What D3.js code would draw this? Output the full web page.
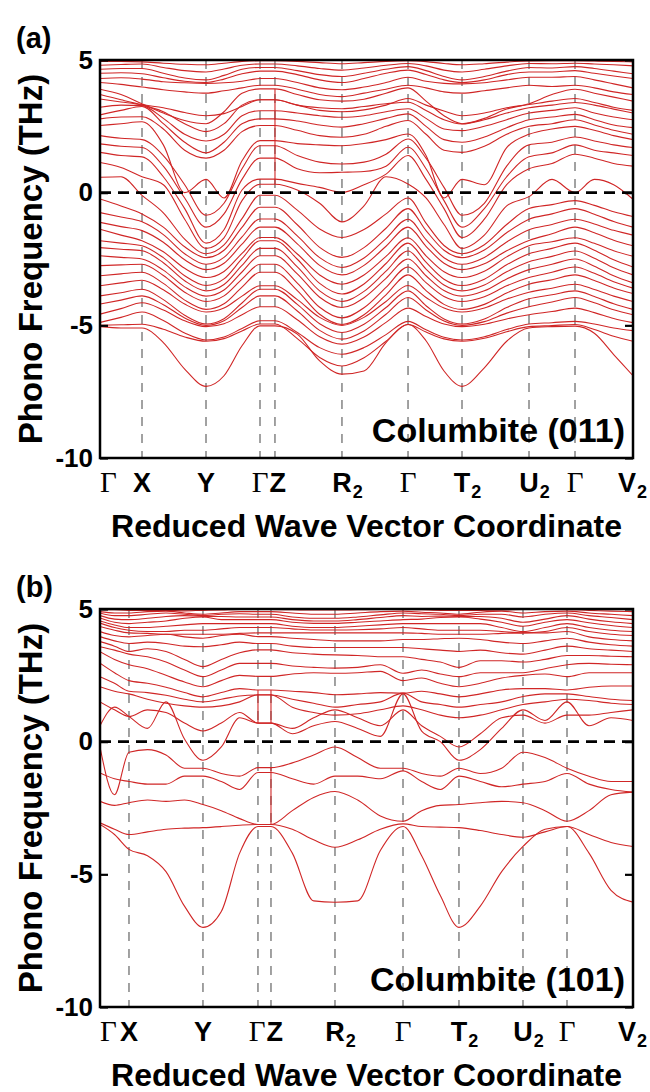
<!DOCTYPE html>
<html>
<head>
<meta charset="utf-8">
<script src="https://cdn.jsdelivr.net/npm/d3@7"></script>
<style>
  body { margin: 0; background: #fff; }
  text { font-family: "Liberation Sans", Arial, sans-serif; font-weight: bold; fill: #000; }
</style>
</head>
<body>
<svg id="chart" width="650" height="1092"></svg>
<script>
// high-symmetry labels along the path
const pointLabels = ['Γ', 'X', 'Y', 'Γ', 'Z', 'R2', 'Γ', 'T2', 'U2', 'Γ', 'V2'];
const yTicks = [5, 0, -5, -10];

// path coordinate (0..1) of each high-symmetry point, and samples per segment
const kTicksA = [0, 0.0788, 0.1989, 0.3002, 0.3283, 0.454, 0.5779, 0.6792, 0.8049, 0.8912, 1];
const stepsA = [2, 3, 3, 1, 3, 3, 3, 3, 2, 3];
const kTicksB = [0, 0.0544, 0.1932, 0.2964, 0.3208, 0.4409, 0.5685, 0.6735, 0.7936, 0.8762, 1];
const stepsB = [2, 4, 3, 1, 3, 3, 3, 3, 2, 3];

// vertical jumps drawn where the path is discontinuous: [point index, from THz, to THz]
const jumpsA = [[4, 3.91, 0.32]];
const jumpsB = [[3, 1.95, 0.7], [4, 1.95, 0.7], [4, -0.98, -3.12]];

// Columbite (011) phonon bands, THz
const bandsA = [
  [4.95,4.95,4.93,4.88,4.84,4.82,4.88,4.95,4.97,4.97,4.95,4.9,4.86,4.9,4.95,4.97,4.94,4.87,4.82,4.86,4.92,4.96,4.97,4.97,4.96,4.95,4.93],
  [4.8,4.83,4.85,4.72,4.6,4.55,4.66,4.8,4.85,4.85,4.78,4.68,4.62,4.7,4.8,4.87,4.78,4.62,4.55,4.65,4.78,4.87,4.86,4.88,4.85,4.82,4.78],
  [4.65,4.68,4.68,4.5,4.32,4.25,4.42,4.65,4.72,4.72,4.6,4.45,4.38,4.5,4.65,4.75,4.6,4.38,4.25,4.38,4.58,4.72,4.7,4.75,4.68,4.58,4.48],
  [4.5,4.52,4.48,4.33,4.2,4.15,4.28,4.48,4.58,4.58,4.45,4.25,4.15,4.3,4.5,4.62,4.45,4.25,4.15,4.25,4.45,4.55,4.55,4.6,4.5,4.4,4.3],
  [4.3,4.33,4.28,4.18,4.14,4.12,4.14,4.2,4.3,4.3,4.15,3.95,3.88,3.98,4.15,4.35,4.2,4.12,4.1,4.14,4.25,4.35,4.35,4.38,4.25,4.1,3.95],
  [4.15,4.08,3.98,3.88,3.8,3.75,3.84,3.95,4.05,4.05,3.9,3.7,3.62,3.75,3.9,4.05,3.95,3.8,3.75,3.84,3.95,4.05,4.0,4.05,3.95,3.8,3.7],
  [3.9,3.7,3.35,3.0,2.72,2.6,3.05,3.75,3.91,3.91,3.7,3.5,3.45,3.52,3.75,3.95,3.45,2.9,2.6,2.8,3.15,3.35,3.7,3.9,3.75,3.6,3.45],
  [3.7,3.5,3.32,3.2,3.02,2.9,2.98,3.25,3.5,3.5,3.3,3.1,3.05,3.12,3.3,3.55,3.3,3.08,2.9,3.0,3.2,3.32,3.45,3.55,3.4,3.22,3.1],
  [3.53,3.42,3.3,3.05,2.6,2.3,2.6,3.3,3.5,3.5,3.3,3.2,3.16,3.25,3.35,3.41,3.1,2.75,2.59,2.75,3.0,3.2,3.3,3.4,3.3,3.15,3.0],
  [3.22,3.3,3.28,2.8,2.2,1.95,2.2,2.9,3.09,3.09,3.0,2.9,2.84,2.9,3.05,3.16,2.8,2.4,2.34,2.5,2.75,3.0,3.1,3.2,3.0,2.85,2.75],
  [2.93,3.1,3.25,2.6,1.9,1.5,1.9,2.6,2.78,2.78,2.7,2.55,2.47,2.6,2.8,2.97,2.5,2.0,1.9,2.1,2.45,2.75,2.85,2.95,2.75,2.55,2.45],
  [2.78,2.85,2.86,2.4,1.6,1.3,1.6,2.3,2.53,2.53,2.35,2.15,2.09,2.2,2.5,2.72,2.2,1.6,1.52,1.75,2.2,2.5,2.6,2.75,2.55,2.35,2.2],
  [2.53,2.6,2.67,1.8,0.0,0.5,-0.2,1.2,1.96,1.96,1.85,1.8,1.77,1.85,2.0,2.21,1.4,-0.2,0.5,0.3,1.7,2.2,2.4,2.5,2.35,2.15,2.0],
  [2.15,2.05,2.0,1.4,0.3,-0.85,-0.4,0.9,1.77,1.77,1.4,1.15,1.08,1.15,1.45,2.02,1.3,0.2,-0.85,-0.4,1.0,1.8,1.9,2.1,1.95,1.8,1.7],
  [1.84,1.75,1.7,1.0,-0.2,-1.3,-0.8,0.5,1.3,1.3,0.9,0.75,0.77,0.8,1.0,1.71,0.9,-0.3,-1.3,-0.6,0.6,1.35,1.5,1.8,1.6,1.5,1.4],
  [1.52,1.4,1.35,0.6,-0.6,-1.9,-1.4,0.1,0.51,0.51,0.35,0.2,0.01,0.3,0.7,1.4,0.5,-0.6,-1.69,-1.0,0.3,0.9,1.1,1.45,1.3,1.1,1.0],
  [1.14,0.95,0.6,0.3,-1.0,-2.1,-1.7,-0.3,0.32,0.32,0.1,-0.4,-1.1,-0.5,0.6,0.33,-0.2,-1.2,-2.1,-1.6,-0.5,-0.15,0.5,0.0,0.5,0.3,-0.25],
  [0.58,0.6,-0.1,-0.76,-1.75,-2.3,-1.97,-0.98,-0.1,-0.1,-0.66,-1.37,-1.69,-1.39,-0.8,-0.2,-1.15,-1.99,-2.3,-1.96,-1.2,-0.6,-0.45,-0.3,-0.48,-0.72,-0.9],
  [-0.24,-0.5,-0.8,-1.3,-2.04,-2.45,-2.17,-1.31,-0.55,-0.55,-1.21,-2.06,-2.44,-2.07,-1.34,-0.6,-1.43,-2.17,-2.45,-2.16,-1.51,-1.0,-0.8,-0.6,-0.81,-1.09,-1.3],
  [-0.75,-0.92,-1.1,-1.58,-2.3,-2.7,-2.44,-1.67,-0.99,-0.99,-1.63,-2.45,-2.82,-2.46,-1.73,-1.0,-1.77,-2.45,-2.7,-2.44,-1.86,-1.4,-1.2,-1.0,-1.18,-1.42,-1.6],
  [-1.12,-1.28,-1.43,-1.87,-2.53,-2.9,-2.66,-1.94,-1.3,-1.3,-1.93,-2.74,-3.1,-2.74,-2.02,-1.3,-2.02,-2.66,-2.9,-2.68,-2.19,-1.8,-1.55,-1.3,-1.51,-1.79,-2.0],
  [-1.38,-1.6,-1.81,-2.23,-2.85,-3.2,-2.97,-2.29,-1.69,-1.69,-2.31,-3.1,-3.45,-3.1,-2.4,-1.7,-2.38,-2.98,-3.2,-2.96,-2.42,-2.0,-1.85,-1.7,-1.91,-2.19,-2.4],
  [-1.81,-1.9,-2.0,-2.45,-3.13,-3.5,-3.25,-2.49,-1.81,-1.81,-2.51,-3.42,-3.82,-3.44,-2.67,-1.9,-2.62,-3.26,-3.5,-3.26,-2.72,-2.3,-2.1,-1.9,-2.17,-2.53,-2.8],
  [-2.07,-2.13,-2.19,-2.64,-3.32,-3.7,-3.46,-2.74,-2.1,-2.1,-2.8,-3.7,-4.1,-3.72,-2.96,-2.2,-2.88,-3.48,-3.7,-3.48,-2.98,-2.6,-2.4,-2.2,-2.47,-2.83,-3.1],
  [-2.38,-2.44,-2.5,-2.92,-3.55,-3.9,-3.67,-2.99,-2.38,-2.38,-3.06,-3.94,-4.33,-3.96,-3.23,-2.5,-3.13,-3.69,-3.9,-3.7,-3.25,-2.9,-2.7,-2.5,-2.77,-3.13,-3.4],
  [-2.75,-2.72,-2.7,-3.12,-3.75,-4.1,-3.89,-3.26,-2.7,-2.7,-3.41,-4.32,-4.72,-4.34,-3.57,-2.8,-3.39,-3.91,-4.1,-3.92,-3.51,-3.2,-3.0,-2.8,-3.04,-3.36,-3.6],
  [-3.13,-3.06,-3.0,-3.42,-4.05,-4.4,-4.19,-3.56,-3.0,-3.0,-3.69,-4.58,-4.97,-4.6,-3.85,-3.1,-3.69,-4.21,-4.4,-4.21,-3.78,-3.45,-3.28,-3.1,-3.31,-3.59,-3.8],
  [-3.51,-3.4,-3.3,-3.66,-4.2,-4.5,-4.35,-3.9,-3.51,-3.51,-4.03,-4.7,-5.0,-4.7,-4.1,-3.5,-3.95,-4.35,-4.5,-4.35,-4.01,-3.75,-3.6,-3.45,-3.65,-3.9,-4.1],
  [-3.89,-3.77,-3.64,-4.03,-4.62,-4.95,-4.75,-4.16,-3.64,-3.64,-4.21,-4.94,-5.27,-4.96,-4.33,-3.7,-4.26,-4.76,-4.95,-4.76,-4.33,-4.0,-3.85,-3.7,-3.91,-4.19,-4.4],
  [-4.2,-4.05,-3.89,-4.22,-4.72,-5.0,-4.83,-4.33,-3.89,-3.89,-4.46,-5.19,-5.52,-5.21,-4.58,-3.95,-4.42,-4.84,-5.0,-4.86,-4.54,-4.3,-4.12,-3.95,-4.15,-4.41,-4.6],
  [-4.58,-4.37,-4.15,-4.42,-4.83,-5.05,-4.94,-4.6,-4.3,-4.3,-4.79,-5.43,-5.71,-5.44,-4.89,-4.35,-4.67,-4.95,-5.05,-4.96,-4.76,-4.6,-4.48,-4.35,-4.52,-4.74,-4.9],
  [-4.89,-4.7,-4.5,-4.82,-5.29,-5.55,-5.44,-5.12,-4.83,-4.83,-5.27,-5.84,-6.09,-5.84,-5.35,-4.85,-5.17,-5.45,-5.55,-5.43,-5.16,-4.95,-4.9,-4.85,-4.95,-5.1,-5.2],
  [-5.0,-4.98,-4.96,-5.15,-5.44,-5.6,-5.5,-5.21,-4.95,-4.95,-5.5,-6.21,-6.53,-6.22,-5.6,-4.97,-5.25,-5.51,-5.6,-5.49,-5.24,-5.05,-5.01,-4.97,-5.16,-5.41,-5.6],
  [-5.05,-5.1,-5.1,-5.65,-6.65,-7.3,-6.9,-5.77,-5.02,-5.02,-5.33,-6.34,-6.84,-6.72,-5.65,-4.97,-5.58,-6.72,-7.3,-6.6,-5.6,-5.1,-5.05,-5.03,-5.3,-6.1,-6.9]
];

// Columbite (101) phonon bands, THz
const bandsB = [
  [4.98,4.97,4.95,4.95,4.95,4.93,4.95,4.96,4.98,4.98,4.98,4.97,4.96,4.96,4.97,4.98,4.98,4.97,4.95,4.95,4.95,4.96,4.98,4.99,4.98,4.95,4.92,4.9],
  [4.9,4.85,4.85,4.9,4.92,4.85,4.8,4.85,4.9,4.9,4.9,4.85,4.8,4.8,4.85,4.9,4.92,4.88,4.85,4.8,4.88,4.92,4.85,4.9,4.92,4.85,4.8,4.75],
  [4.85,4.75,4.75,4.8,4.85,4.8,4.75,4.8,4.82,4.8,4.8,4.7,4.65,4.65,4.7,4.78,4.85,4.82,4.8,4.75,4.8,4.8,4.7,4.8,4.85,4.75,4.68,4.6],
  [4.75,4.62,4.6,4.65,4.72,4.75,4.72,4.72,4.7,4.7,4.7,4.6,4.55,4.55,4.6,4.68,4.75,4.72,4.73,4.72,4.72,4.65,4.5,4.62,4.75,4.62,4.52,4.45],
  [4.66,4.5,4.45,4.5,4.55,4.65,4.7,4.6,4.6,4.6,4.6,4.5,4.46,4.46,4.5,4.55,4.6,4.62,4.68,4.7,4.62,4.5,4.35,4.5,4.6,4.48,4.38,4.3],
  [4.55,4.4,4.3,4.3,4.35,4.4,4.45,4.45,4.45,4.45,4.45,4.35,4.3,4.3,4.35,4.4,4.45,4.45,4.45,4.45,4.45,4.3,4.15,4.3,4.45,4.3,4.2,4.15],
  [4.47,4.3,4.2,4.15,4.15,4.2,4.2,4.25,4.3,4.3,4.3,4.25,4.21,4.21,4.22,4.25,4.3,4.25,4.2,4.2,4.2,4.15,4.1,4.15,4.3,4.15,4.05,4.0],
  [4.34,4.2,4.1,4.08,4.05,4.05,4.05,4.05,4.08,4.1,4.1,4.1,4.1,4.1,4.1,4.1,4.1,4.08,4.05,4.05,4.05,4.08,4.1,4.1,4.15,3.95,3.85,3.8],
  [4.15,4.0,3.95,4.0,4.05,3.95,3.9,4.0,4.05,3.96,3.96,3.9,3.85,3.8,3.8,3.8,3.85,3.85,3.88,3.9,3.85,3.75,3.7,3.8,3.9,3.75,3.65,3.6],
  [3.96,3.8,3.7,3.75,3.7,3.6,3.58,3.65,3.75,3.7,3.7,3.6,3.55,3.55,3.55,3.55,3.55,3.5,3.45,3.4,3.45,3.35,3.3,3.45,3.6,3.5,3.45,3.4],
  [3.77,3.6,3.4,3.5,3.4,3.1,2.83,3.1,3.35,3.46,3.46,3.35,3.3,3.27,3.25,3.2,3.2,3.1,3.0,2.8,3.05,3.05,3.0,3.1,3.25,3.25,3.22,3.2],
  [3.58,3.45,3.3,3.2,3.0,2.7,2.45,2.7,2.95,2.95,2.95,2.85,2.8,2.77,2.8,2.9,2.58,2.7,2.55,2.45,2.6,2.6,2.6,2.75,2.9,2.95,2.92,2.9],
  [3.39,3.1,2.9,2.75,2.5,2.25,2.07,2.3,2.5,2.46,2.46,2.55,2.6,2.58,2.6,2.65,2.3,2.4,2.2,2.07,2.2,2.4,2.5,2.55,2.45,2.6,2.6,2.6],
  [2.96,2.6,2.3,2.2,2.05,1.85,1.69,1.85,2.0,1.95,1.95,1.9,1.85,1.77,1.8,1.85,1.83,1.9,1.8,1.69,1.8,1.95,2.0,2.0,1.95,2.05,2.1,2.1],
  [2.45,2.2,1.9,1.85,1.75,1.6,1.5,1.6,1.72,1.76,1.76,1.6,1.45,1.3,1.4,1.5,1.83,1.5,1.4,1.3,1.4,1.5,1.7,1.8,1.8,1.7,1.6,1.55],
  [2.07,1.9,1.8,1.6,1.45,1.35,1.3,1.35,1.5,1.77,1.77,1.3,1.1,1.0,1.05,1.2,1.35,1.2,1.0,0.9,1.0,1.2,1.4,1.5,1.6,1.55,1.45,1.4],
  [1.5,1.2,0.95,1.2,1.1,0.7,0.4,0.7,1.1,0.7,0.7,0.5,0.9,1.2,0.9,0.6,1.2,0.6,0.2,-0.2,0.3,0.9,1.0,0.7,1.0,1.0,1.1,1.2],
  [0.6,1.3,0.95,0.5,1.5,0.1,-0.7,-0.2,0.9,0.7,0.7,0.3,0.6,0.76,0.5,0.2,1.8,0.4,0.0,-0.7,-0.3,0.5,1.2,0.8,1.5,0.6,0.9,0.8],
  [-0.2,-2.0,-0.4,-0.3,-0.5,-1.0,-1.0,-1.2,-1.3,-0.98,-0.98,-0.8,-0.5,-0.2,-0.6,-1.0,-1.0,-1.2,-1.3,-1.0,-1.2,-1.0,-0.4,-0.6,-1.0,-1.3,-1.5,-1.5],
  [-1.18,-1.4,-1.5,-1.6,-1.6,-1.3,-1.3,-1.5,-1.8,-1.16,-1.16,-1.4,-1.6,-1.3,-1.3,-1.4,-1.1,-1.5,-1.8,-1.3,-1.5,-1.7,-1.6,-1.5,-1.2,-1.6,-1.8,-1.9],
  [-2.25,-2.4,-2.3,-2.2,-2.25,-2.2,-2.37,-2.6,-2.9,-3.12,-3.12,-2.6,-2.1,-1.88,-2.2,-2.8,-3.0,-2.6,-2.4,-2.37,-2.3,-2.25,-2.3,-2.6,-3.0,-2.6,-2.0,-1.9],
  [-3.06,-3.3,-3.5,-3.4,-3.3,-3.26,-3.24,-3.2,-3.15,-3.12,-3.12,-3.3,-3.7,-3.98,-3.7,-3.3,-3.1,-3.2,-3.22,-3.24,-3.35,-3.5,-3.6,-3.4,-3.2,-3.5,-3.8,-3.95],
  [-3.12,-3.5,-4.06,-4.3,-4.9,-6.2,-7.0,-6.4,-4.2,-3.2,-3.2,-4.2,-6.0,-6.05,-6.0,-4.1,-3.2,-4.3,-5.8,-7.0,-6.2,-4.9,-3.95,-3.3,-3.2,-4.2,-5.6,-6.05]
];

const svg = d3.select('#chart');
const plotX = [100, 633];
const bandColor = '#d02626';

const panels = [
  { top: 60, bottom: 458, ticks: kTicksA, steps: stepsA, bands: bandsA, jumps: jumpsA, tag: '(a)', name: 'Columbite (011)' },
  { top: 609, bottom: 1007, ticks: kTicksB, steps: stepsB, bands: bandsB, jumps: jumpsB, tag: '(b)', name: 'Columbite (101)' }
];

panels.forEach((p, i) => drawPanel(p, i));

function drawPanel(p, idx) {
  const x = d3.scaleLinear().domain([0, 1]).range(plotX);
  const y = d3.scaleLinear().domain([-10, 5]).range([p.bottom, p.top]);

  // sample positions along the path (evenly split inside each segment)
  const grid = [p.ticks[0]];
  p.steps.forEach((n, s) => {
    const k0 = p.ticks[s], k1 = p.ticks[s + 1];
    for (let j = 1; j <= n; j++) grid.push(k0 + (k1 - k0) * j / n);
  });
  p.bands.forEach((b, i) => {
    if (b.length !== grid.length) console.error('band length mismatch', idx, i, b.length, grid.length);
  });

  const g = svg.append('g');
  const clipId = 'clip' + idx;
  g.append('clipPath').attr('id', clipId).append('rect')
    .attr('x', plotX[0]).attr('y', p.top)
    .attr('width', plotX[1] - plotX[0]).attr('height', p.bottom - p.top);

  // dashed lines at the inner high-symmetry points
  g.selectAll('.sym')
    .data(p.ticks.slice(1, -1))
    .join('line')
    .attr('class', 'sym')
    .attr('x1', d => x(d)).attr('x2', d => x(d))
    .attr('y1', p.top).attr('y2', p.bottom)
    .attr('stroke', '#444')
    .attr('stroke-width', 1)
    .attr('stroke-dasharray', '9,8');

  // bands
  const line = d3.line()
    .x((d, j) => x(grid[j]))
    .y(d => y(d))
    .curve(d3.curveMonotoneX);

  const bandG = g.append('g').attr('clip-path', `url(#${clipId})`);
  bandG.selectAll('path')
    .data(p.bands)
    .join('path')
    .attr('d', line)
    .attr('fill', 'none')
    .attr('stroke', bandColor)
    .attr('stroke-width', 1.1);

  bandG.selectAll('.jump')
    .data(p.jumps)
    .join('line')
    .attr('class', 'jump')
    .attr('x1', d => x(p.ticks[d[0]])).attr('x2', d => x(p.ticks[d[0]]))
    .attr('y1', d => y(d[1])).attr('y2', d => y(d[2]))
    .attr('stroke', bandColor)
    .attr('stroke-width', 1.1);

  // zero line
  g.append('line')
    .attr('x1', plotX[0]).attr('x2', plotX[1])
    .attr('y1', y(0)).attr('y2', y(0))
    .attr('stroke', '#000')
    .attr('stroke-width', 2.6)
    .attr('stroke-dasharray', '11,7');

  // y axes, ticks pointing inwards
  const axL = g.append('g')
    .attr('transform', `translate(${plotX[0]},0)`)
    .call(d3.axisLeft(y).tickValues(yTicks).tickSize(-8).tickPadding(7).tickFormat(d => String(d)));
  const axR = g.append('g')
    .attr('transform', `translate(${plotX[1]},0)`)
    .call(d3.axisRight(y).tickValues(yTicks).tickSize(-8).tickFormat(''));
  [axL, axR].forEach(a => {
    a.select('.domain').remove();
    a.selectAll('.tick line').attr('stroke', '#000').attr('stroke-width', 2.2);
  });
  axL.selectAll('.tick text')
    .attr('font-family', '"Liberation Sans", Arial, sans-serif')
    .attr('font-size', 26)
    .attr('font-weight', 'bold')
    .attr('fill', '#000');

  // frame
  g.append('rect')
    .attr('x', plotX[0]).attr('y', p.top)
    .attr('width', plotX[1] - plotX[0]).attr('height', p.bottom - p.top)
    .attr('fill', 'none')
    .attr('stroke', '#000')
    .attr('stroke-width', 2.5);

  // high-symmetry point labels
  const labelY = p.bottom + 34;
  const last = p.ticks.length - 1;
  p.ticks.forEach((k, i) => {
    const name = pointLabels[i];
    const main = name[0], sub = name.slice(1);
    let px = x(k), anchor = 'middle';
    if (i === 0) anchor = 'start';
    if (main === 'Γ' && i + 1 <= last && x(p.ticks[i + 1]) - px < 20) {
      px = (px + x(p.ticks[i + 1])) / 2 + 1;
      anchor = 'end';
    }
    if (i > 0 && x(k) - x(p.ticks[i - 1]) < 20) {
      px = (x(p.ticks[i - 1]) + x(k)) / 2 + 2;
      anchor = 'start';
    }
    const t = g.append('text')
      .attr('x', px).attr('y', labelY)
      .attr('text-anchor', anchor)
      .text(main);
    if (main === 'Γ') {
      t.style('font-family', '"Liberation Serif", "Times New Roman", serif')
        .style('font-weight', 'normal')
        .attr('font-size', 29);
    } else {
      t.attr('font-size', 27);
    }
    if (sub) {
      const w = t.node().getComputedTextLength();
      let sx = anchor === 'middle' ? px + w / 2 : anchor === 'start' ? px + w : px;
      if (i === last) {
        // keep the last label inside the picture
        t.attr('x', px - 6);
        sx -= 6;
      }
      g.append('text')
        .attr('x', sx + 1).attr('y', labelY + 6)
        .attr('font-size', 18)
        .text(sub);
    }
  });

  // axis titles and annotations
  g.append('text')
    .attr('x', (plotX[0] + plotX[1]) / 2)
    .attr('y', p.bottom + 79)
    .attr('text-anchor', 'middle')
    .attr('font-size', 32)
    .text('Reduced Wave Vector Coordinate');

  g.append('text')
    .attr('transform', `translate(42,${(p.top + p.bottom) / 2}) rotate(-90)`)
    .attr('text-anchor', 'middle')
    .attr('font-size', 33)
    .text('Phono Frequency (THz)');

  g.append('text')
    .attr('x', 16).attr('y', p.top - 12)
    .attr('font-size', 29)
    .text(p.tag);

  g.append('text')
    .attr('x', plotX[1] - 8).attr('y', p.bottom - 16)
    .attr('text-anchor', 'end')
    .attr('font-size', 34)
    .text(p.name);
}
</script>
</body>
</html>
